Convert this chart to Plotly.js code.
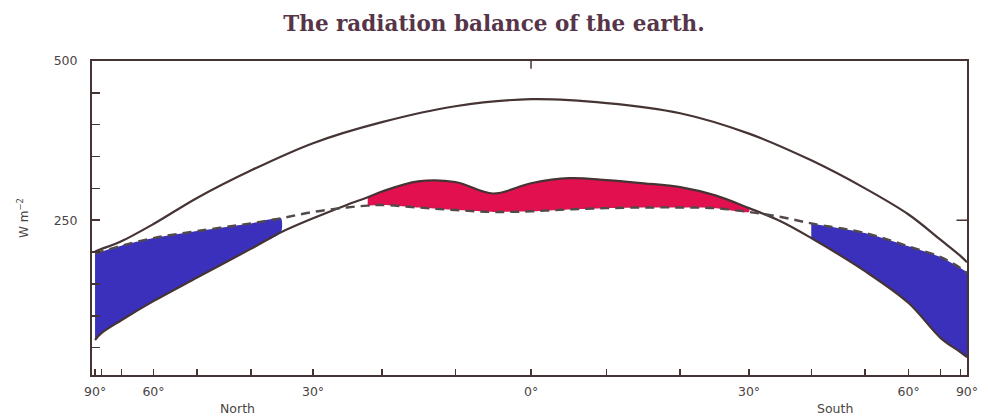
<!DOCTYPE html>
<html>
<head>
<meta charset="utf-8">
<script src="https://cdn.plot.ly/plotly-3.0.1.min.js"></script>
<style>
html,body{margin:0;padding:0;background:#fff;}
#chart{width:988px;height:419px;}
</style>
</head>
<body>
<div id="chart"></div>
<script>
// Latitude (positive = North, negative = South)
const latitudes = [90,80,70,60,50,40,35,30,25,22,20,15,10,5,0,-5,-10,-15,-20,-25,-30,-35,-40,-50,-60,-70,-80,-90];
// Dashed curve (W m-2)
const dashedCurve = [198,201,210,222,233,245,253,263,270,273,274,270,266,263,264,267,269,270,270,269,263,255,245,230,209,192,175,167];
// Lower solid curve (W m-2)
const lowerSolid = [62,73,93,123,160,205,231,253,274,286,295,311,310,292,308,316,313,308,302,289,269,248,222,170,120,65,43,35];

// Upper solid curve, read every 10 degrees (W m-2)
const upperLats = [90,80,70,60,50,40,30,20,10,0,-10,-20,-30,-40,-50,-60,-70,-80,-90];
const upperSolid = [201,205,217,244,285,328,371,404,429,440,434,418,386,344,300,259,219,194,184];

// Tick latitudes and labels
const tickLats = [90,80,70,60,50,40,30,20,10,0,-10,-20,-30,-40,-50,-60,-70,-80,-90];
const tickLabels = ['90°','','','60°','','','30°','','','0°','','','30°','','','60°','','','90°'];
const yTickVals = [50,100,150,200,250,300,350,400,450,500];
const yTickText = ['','','','','250','','','','','500'];

// Area-weighted axis: position = sine of latitude (North on the left)
const toX = lat => -Math.sin(lat * Math.PI / 180);
const X = latitudes.map(toX);
const XU = upperLats.map(toX);

function band(i0, i1){
  const xs = [], ys = [];
  for (let i = i0; i <= i1; i++){ xs.push(X[i]); ys.push(dashedCurve[i]); }
  for (let i = i1; i >= i0; i--){ xs.push(X[i]); ys.push(lowerSolid[i]); }
  return {xs, ys};
}
const idx = lat => latitudes.indexOf(lat);

const BLUE = 'rgb(58,48,188)';
const RED = 'rgb(226,16,78)';
const LINE = '#463434';

const bN = band(idx(90), idx(35));
const bR = band(idx(22), idx(-30));
const bS = band(idx(-40), idx(-90));

const fillTrace = (b, c) => ({
  x: b.xs, y: b.ys, type: 'scatter', mode: 'lines', fill: 'toself',
  fillcolor: c, line: {width: 0, shape: 'spline', smoothing: 0.6, color: c},
  hoverinfo: 'skip', showlegend: false
});

const traces = [
  fillTrace(bN, BLUE),
  fillTrace(bR, RED),
  fillTrace(bS, BLUE),
  {x: XU, y: upperSolid, type: 'scatter', mode: 'lines',
   line: {color: LINE, width: 2.2, shape: 'spline', smoothing: 1.0}, showlegend: false},
  {x: X, y: lowerSolid, type: 'scatter', mode: 'lines',
   line: {color: LINE, width: 2.2, shape: 'spline', smoothing: 1.0}, showlegend: false},
  {x: X, y: dashedCurve, type: 'scatter', mode: 'lines',
   line: {color: '#524a4a', width: 2.4, dash: '9px,6px', shape: 'spline', smoothing: 1.0}, showlegend: false}
];

const tickFont = {family: 'DejaVu Sans, sans-serif', size: 12.5, color: '#4a4444'};

const layout = {
  width: 988, height: 419,
  margin: {l: 92, r: 21, t: 61, b: 44},
  paper_bgcolor: '#ffffff', plot_bgcolor: '#ffffff',
  title: {text: '<b>The radiation balance of the earth.</b>',
          font: {family: 'DejaVu Serif, serif', size: 21.5, color: '#563548'},
          x: 0.5, xanchor: 'center', y: 0.945, yanchor: 'middle'},
  xaxis: {range: [-1.007, 1.0], showgrid: false, zeroline: false,
          showline: true, linecolor: LINE, linewidth: 2, mirror: true,
          ticks: 'inside', ticklen: 6, tickcolor: LINE, tickwidth: 1.5,
          tickvals: tickLats.map(toX), ticktext: tickLabels,
          ticklabelstandoff: 4,
          tickfont: tickFont, fixedrange: true},
  yaxis: {range: [7, 500], showgrid: false, zeroline: false,
          showline: true, linecolor: LINE, linewidth: 2, mirror: true,
          ticks: 'inside', ticklen: 8, tickcolor: LINE, tickwidth: 1.5,
          tickvals: yTickVals, ticktext: yTickText, tickfont: tickFont,
          ticklabelstandoff: 10,
          title: {text: 'W m<sup>−2</sup>', font: {family: 'DejaVu Sans, sans-serif', size: 12, color: '#4a4444'}, standoff: 22},
          fixedrange: true},
  annotations: [
    {text: 'North', xref: 'paper', yref: 'paper', x: 0.166, y: -0.108, showarrow: false,
     xanchor: 'center', yanchor: 'middle', font: tickFont},
    {text: 'South', xref: 'paper', yref: 'paper', x: 0.849, y: -0.108, showarrow: false,
     xanchor: 'center', yanchor: 'middle', font: tickFont}
  ],
  shapes: [
    {type: 'line', xref: 'x', yref: 'paper', x0: 0, x1: 0, y0: 1, y1: 0.975, line: {color: LINE, width: 1.5}},
    {type: 'line', xref: 'paper', yref: 'y', x0: 1, x1: 0.988, y0: 250, y1: 250, line: {color: LINE, width: 1.5}}
  ]
};

Plotly.newPlot('chart', traces, layout, {displayModeBar: false, staticPlot: true});
</script>
</body>
</html>
